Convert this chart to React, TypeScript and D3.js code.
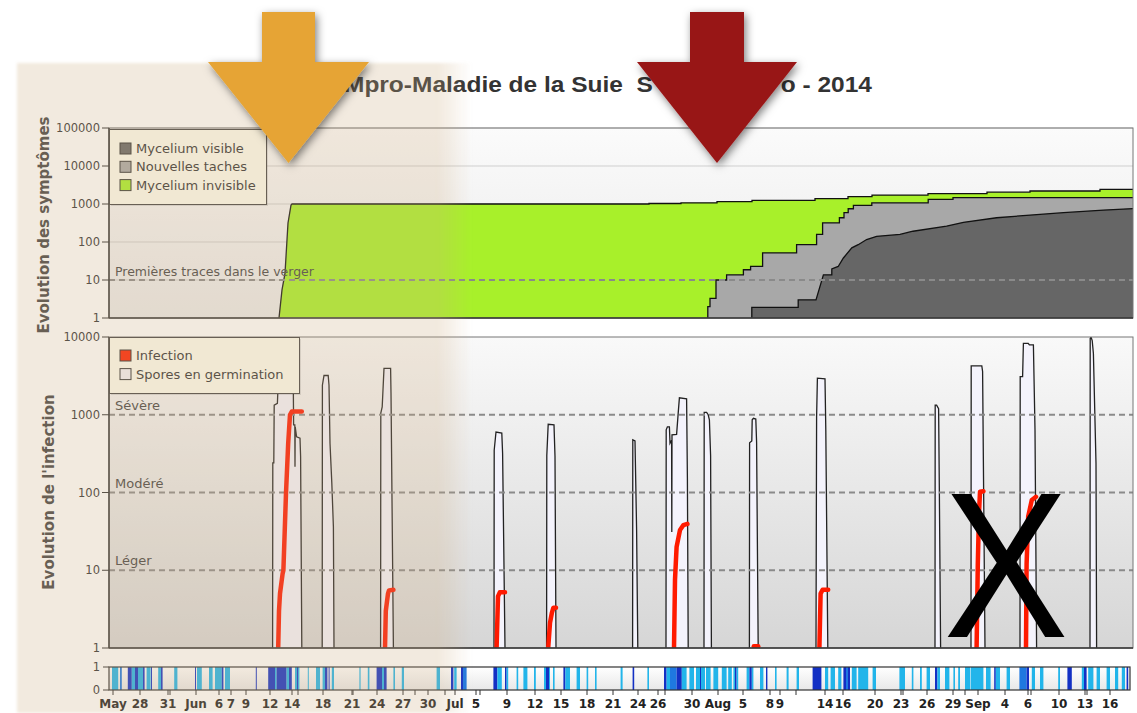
import React from 'react';
import * as d3 from 'd3';

const W = 1137;
const H = 713;
const PLOT_L = 109;
const PLOT_R = 1133;
const SANS = "'DejaVu Sans', Verdana, sans-serif";
const TITLE_FONT = "'Liberation Sans', Arial, sans-serif";

// x axis: ordinal (observation index) axis, 0..256
const X_DOMAIN = [0, 256];
const tickLabels = ['May', '28', '31', 'Jun', '6', '7', '9', '12', '14', '18', '21', '24', '27', '30', 'Jul', '5', '9', '12', '15', '18', '21', '24', '26', '30', 'Aug', '5', '8', '9', '14', '16', '20', '23', '26', '29', 'Sep', '4', '6', '10', '13', '16'];
const tickPositions = [1, 7.75, 14.75, 21.75, 27.5, 30.5, 34.25, 40.25, 45.75, 53.5, 60.75, 67, 73.5, 79.75, 86.5, 91.75, 99.5, 106.5, 113, 119.5, 126, 132.25, 137.25, 145.75, 152.25, 158.5, 165.25, 167.75, 179, 183.5, 191.5, 198, 204.5, 211, 217.25, 224, 229.75, 237.5, 244, 250.25];
const minorTicks = [15.25, 47.25, 61, 76.5, 84, 92.75, 139, 171.75, 198.5, 214, 230.5, 244.5];

const upperTicks = [1, 10, 100, 1000, 10000, 100000];
const lowerTicks = [1, 10, 100, 1000, 10000];
const thresholdValues = [1000, 100, 10];
const thresholdLabels = ['Sévère', 'Modéré', 'Léger'];

// Upper chart series: [index, value]
const myceliumInvisible = [[42.5, 1], [43.25, 5.5], [44, 15], [44.75, 316], [45.5, 940], [45.75, 1000], [135, 1000], [135, 1030], [143, 1030], [143, 1075], [152, 1075], [152, 1150], [160.75, 1150], [160.75, 1250], [176.5, 1250], [176.5, 1380], [184.75, 1380], [184.75, 1560], [190.75, 1560], [190.75, 1720], [204.75, 1720], [204.75, 1870], [219.5, 1870], [219.5, 2050], [230.25, 2050], [230.25, 2200], [247.75, 2200], [247.75, 2430], [256, 2430]];
const nouvellesTaches = [[149.7, 1], [149.7, 2], [150.25, 2], [150.25, 3.3], [151.75, 3.3], [151.75, 10], [154.4, 10], [154.4, 13.7], [158.6, 13.7], [158.6, 18.6], [160.4, 18.6], [160.4, 22.7], [163.4, 22.7], [163.4, 51.5], [171.9, 51.5], [171.9, 85], [176.9, 85], [176.9, 158], [178.4, 158], [178.4, 320], [182.6, 320], [182.6, 435], [183.75, 435], [183.75, 590], [184.8, 590], [184.8, 750], [186.1, 750], [186.1, 920], [190.7, 920], [190.7, 1075], [204.8, 1075], [204.8, 1320], [211, 1320], [211, 1470], [256, 1470]];
const myceliumVisible = [[160.7, 1], [160.7, 1.9], [172.3, 1.9], [172.3, 3], [176.75, 3], [178.6, 13.7], [180.7, 13.7], [180.7, 19.5], [182.3, 22.7], [183.6, 38], [185.7, 70], [187.3, 85], [189.4, 116], [191.9, 141], [197.75, 158], [201, 192], [209.4, 260], [213.6, 330], [221.9, 435], [230.25, 510], [238.6, 590], [248.6, 690], [256, 760]];

// Lower chart: spores en germination pulses
const sporePulses = [
  [[40.9, 1], [40.95, 240], [41.2, 240], [41.3, 1330], [42.1, 1400], [42.2, 1900], [42.4, 3500], [46.05, 3500], [46.15, 740], [46.45, 740], [46.5, 215], [46.55, 700], [46.9, 520], [47.75, 500], [47.9, 290], [48.2, 1]],
  [[53.3, 1], [53.35, 2400], [53.75, 3200], [54.8, 3200], [55, 2400], [55.25, 430], [55.7, 133], [56.1, 36], [56.25, 1]],
  [[67.9, 1], [67.95, 1050], [68.3, 1260], [68.75, 3950], [70.4, 3950], [70.5, 1900], [71.1, 1]],
  [[96.25, 1], [96.3, 350], [96.75, 600], [98.2, 580], [98.4, 320], [99, 1]],
  [[109.4, 1], [109.45, 300], [109.8, 755], [111.25, 740], [111.5, 290], [111.75, 1]],
  [[130.9, 1], [130.95, 475], [131.5, 460], [131.9, 33], [132.2, 1]],
  [[139.25, 1], [139.3, 640], [139.6, 700], [140.1, 700], [140.25, 430], [140.65, 470], [140.7, 31], [140.75, 550], [141.9, 560], [142.3, 1050], [142.6, 1650], [144.4, 1600], [144.6, 150], [144.8, 1]],
  [[148.75, 1], [148.8, 1070], [149.4, 1070], [149.8, 1000], [150.1, 860], [150.4, 300], [150.6, 1]],
  [[160.1, 1], [160.15, 437], [160.7, 460], [160.8, 860], [161.1, 900], [161.7, 880], [161.9, 440], [162.3, 1]],
  [[176.75, 1], [176.9, 940], [177.1, 2950], [179, 2900], [179.2, 640], [179.7, 1]],
  [[206.5, 1], [206.55, 1330], [206.9, 1330], [207.4, 1200], [207.6, 88], [207.9, 1]],
  [[215.5, 1], [215.55, 4250], [218.2, 4250], [218.4, 3600], [219, 1]],
  [[227.75, 1], [227.8, 3100], [228.4, 3100], [228.6, 8300], [229.8, 8300], [230.1, 7900], [231.1, 7900], [231.5, 640], [231.9, 1]],
  [[245.25, 1], [245.3, 9600], [245.5, 10000], [245.8, 9000], [246.1, 6150], [246.75, 237], [246.9, 1]],
];

// Lower chart: infection curves
const infectionCurves = [
  [[42.3, 1], [42.5, 3], [42.75, 5], [43.4, 9], [43.6, 10], [44.25, 98], [44.8, 430], [45.25, 1000], [45.7, 1100], [48.2, 1100]],
  [[69, 1], [69.2, 3], [69.75, 5], [70, 5.5], [71.1, 5.6]],
  [[96.9, 1], [97.25, 4.6], [97.7, 5.2], [99, 5.2]],
  [[109.8, 1], [110.25, 2.1], [110.7, 2.8], [111.1, 3.3], [111.75, 3.3]],
  [[141.25, 1], [141.5, 7.5], [141.9, 20], [142.75, 33], [143.6, 38], [144.6, 39.5]],
  [[161.2, 1.05], [162.3, 1.05]],
  [[177.6, 1], [177.9, 5.0], [178.4, 5.6], [179.8, 5.6]],
  [[216.9, 1], [217.2, 12], [217.5, 54], [217.75, 102], [218.6, 104]],
  [[229.25, 1], [229.4, 12], [229.8, 49], [230.7, 80], [231.75, 88]],
];

// Bottom strip: wetness periods [start, end, level 1=light 2=medium 3=dark]
const wetnessBars = [
  [0.75, 2.3, 1], [2.75, 3.2, 2], [4.7, 5.7, 3], [5.7, 6.5, 1], [6.5, 7.25, 3], [7.25, 8.5, 1], [8.5, 8.9, 3], [9.4, 10.4, 1], [10.5, 10.75, 3],
  [12.3, 13, 1], [13, 13.4, 3], [16.3, 17.1, 1], [21.5, 21.75, 3], [22, 23.2, 1], [25, 25.9, 1], [26.5, 28.2, 1], [28.2, 28.6, 3], [29, 30.25, 1],
  [36.7, 36.9, 3], [39.8, 41.5, 3], [41.5, 41.9, 1], [41.9, 44.4, 3], [44.4, 45, 1], [45, 45.7, 3], [46.5, 47.6, 1], [47, 47.25, 3], [49.7, 49.9, 1],
  [51.75, 52.75, 1], [53.4, 54, 1], [54, 54.6, 3], [54.9, 55.1, 3], [55.7, 56.25, 1], [62.6, 62.9, 1], [64.7, 65.1, 1], [66.9, 68.25, 3], [68.25, 68.75, 1],
  [68.75, 69.4, 3], [71.1, 71.5, 1], [73.2, 73.75, 1], [81.9, 82.75, 1], [85.5, 86.1, 3], [86.3, 86.9, 1], [88, 88.5, 3], [88.5, 89.4, 2],
  [96.1, 97.1, 3], [97.1, 98.2, 1], [99, 99.4, 3], [99.4, 99.8, 1], [101.9, 102.3, 1], [103.6, 104.6, 1], [106.25, 106.7, 1], [108.75, 109.25, 1],
  [109.25, 110, 3], [110, 110.25, 1], [111, 111.4, 1], [113.6, 114.1, 3], [114.1, 115.25, 1], [116.9, 117.75, 1], [119.4, 119.8, 1], [121.5, 121.9, 1],
  [127.9, 128.4, 1], [130.9, 131.3, 3], [134.6, 135, 1], [138.75, 139.4, 3], [139.4, 140.25, 1], [140.25, 141.9, 2], [141.9, 143.2, 3], [143.2, 144.4, 1],
  [145.1, 146.25, 1], [146.75, 147.75, 1], [147.75, 148, 3], [148, 149, 1], [149.25, 150.4, 1], [151.1, 152.3, 1], [153.2, 154.4, 1], [154.8, 155.7, 1],
  [156.1, 156.5, 1], [156.5, 156.9, 3], [156.9, 157.3, 1], [159.4, 160.1, 1], [160.1, 160.7, 3], [160.7, 161.1, 1], [162.75, 163.6, 1], [164.25, 164.6, 3],
  [166.5, 166.9, 1], [169.4, 169.9, 1], [171.9, 172.5, 1], [175.9, 178.1, 3], [179, 179.8, 1], [180.4, 181.5, 1], [182.3, 183.1, 1], [183.6, 184.25, 3],
  [184.25, 184.75, 2], [184.75, 185.25, 3], [185.7, 186.9, 1], [187.3, 189.8, 1], [190.9, 191.75, 1], [197.6, 199, 1], [200.7, 201.1, 1], [202.75, 203.2, 1],
  [204.4, 205.25, 1], [206.5, 207.1, 3], [207.1, 207.75, 1], [209, 210.1, 1], [211.1, 211.5, 1], [212.3, 212.75, 1], [214, 215.25, 1], [215.4, 218.6, 1],
  [219.25, 220.4, 1], [221.3, 221.7, 3], [221.7, 222.75, 1], [224.4, 225.25, 1], [227.6, 229.4, 2], [229.4, 230, 3], [230.7, 231.5, 1], [232.75, 233.6, 1],
  [237.3, 237.75, 1], [239.6, 240.7, 3], [243.2, 243.75, 1], [243.75, 244.4, 3], [244.8, 246.1, 1], [246.9, 247.75, 1], [249.4, 250.25, 1], [251.5, 252.3, 1],
  [253.2, 254, 1], [254.4, 254.8, 3],
];
const wetnessColors = ['', '#22b5ea', '#1f78e0', '#1330c4'];

const upperLegendLabels = ['Mycelium visible', 'Nouvelles taches', 'Mycelium invisible'];
const upperLegendColors = ['#666666', '#a8a8a8', '#a8f02a'];
const lowerLegendLabels = ['Infection', 'Spores en germination'];
const lowerLegendColors = ['#ff2200', '#f2f0f6'];

function arrowPoints(cx: number, shaftHalf: number, headHalf: number, top: number, headTop: number, tip: number) {
  return [
    [cx - shaftHalf, top], [cx + shaftHalf, top], [cx + shaftHalf, headTop], [cx + headHalf, headTop],
    [cx, tip], [cx - headHalf, headTop], [cx - shaftHalf, headTop],
  ].map((p) => p.join(',')).join(' ');
}

export default function App() {
  const x = d3.scaleLinear().domain(X_DOMAIN).range([PLOT_L, PLOT_R]);
  const yU = d3.scaleLog().domain([1, 100000]).range([318, 128]);
  const yL = d3.scaleLog().domain([1, 10000]).range([648, 337]);
  const yS = d3.scaleLinear().domain([0, 1]).range([690, 667]);

  const areaU = d3.area<number[]>().x((d) => x(d[0])).y0(yU(1)).y1((d) => yU(d[1]));
  const lineU = d3.line<number[]>().x((d) => x(d[0])).y((d) => yU(d[1]));
  const areaL = d3.area<number[]>().x((d) => x(d[0])).y0(yL(1)).y1((d) => yL(d[1]));
  const lineL = d3.line<number[]>().x((d) => x(d[0])).y((d) => yL(d[1]));

  const upperSeries = [
    { data: myceliumInvisible, color: upperLegendColors[2] },
    { data: nouvellesTaches, color: upperLegendColors[1] },
    { data: myceliumVisible, color: upperLegendColors[0] },
  ];

  return (
    <svg width={W} height={H} style={{ position: 'absolute', left: 0, top: 0, background: '#fff' }}>
      <defs>
        <linearGradient id="bgU" x1="0" x2="0" y1="0" y2="1">
          <stop offset="0" stopColor="#fbfbfb" />
          <stop offset="1" stopColor="#e9e9e9" />
        </linearGradient>
        <linearGradient id="bgL" x1="0" x2="0" y1="0" y2="1">
          <stop offset="0" stopColor="#f9f9f9" />
          <stop offset="1" stopColor="#d6d6d6" />
        </linearGradient>
        <linearGradient id="bgS" x1="0" x2="0" y1="0" y2="1">
          <stop offset="0" stopColor="#ffffff" />
          <stop offset="1" stopColor="#e8e8e8" />
        </linearGradient>
        <linearGradient id="ov" x1="0" x2="1" y1="0" y2="0">
          <stop offset="0" stopColor="rgb(205,172,128)" stopOpacity="0.26" />
          <stop offset="0.925" stopColor="rgb(205,172,128)" stopOpacity="0.26" />
          <stop offset="1" stopColor="rgb(205,172,128)" stopOpacity="0" />
        </linearGradient>
        <filter id="shadow" x="-30%" y="-30%" width="160%" height="160%">
          <feDropShadow dx="2" dy="3" stdDeviation="4.5" floodColor="#000" floodOpacity="0.5" />
        </filter>
        <filter id="ovblur" x="-5%" y="-5%" width="110%" height="110%">
          <feGaussianBlur stdDeviation="1.5" />
        </filter>
        <clipPath id="clipU"><rect x={PLOT_L} y={128} width={PLOT_R - PLOT_L} height={190} /></clipPath>
        <clipPath id="clipL"><rect x={PLOT_L} y={337} width={PLOT_R - PLOT_L} height={311} /></clipPath>
      </defs>

      {/* Upper plot */}
      <rect x={PLOT_L} y={yU(100000)} width={PLOT_R - PLOT_L} height={yU(1) - yU(100000)} fill="url(#bgU)" />
      {upperTicks.slice(1).map((t) => (
        <line key={'gu' + t} x1={PLOT_L} x2={PLOT_R} y1={yU(t)} y2={yU(t)} stroke="#cfcfcf" strokeWidth={1} />
      ))}
      <g clipPath="url(#clipU)">
        {upperSeries.map((s, i) => (
          <g key={'us' + i}>
            <path d={areaU(s.data) || ''} fill={s.color} />
            <path d={lineU(s.data) || ''} fill="none" stroke="#111" strokeWidth={1.3} />
          </g>
        ))}
      </g>
      <line x1={PLOT_L} x2={PLOT_R} y1={yU(10)} y2={yU(10)} stroke="#8a8a8a" strokeWidth={2} strokeDasharray="6,4" />
      <text x={115} y={yU(10) - 4} fontFamily={SANS} fontSize={12.5} fill="#444">Premières traces dans le verger</text>
      <rect x={PLOT_L} y={yU(100000)} width={PLOT_R - PLOT_L} height={yU(1) - yU(100000)} fill="none" stroke="#777" strokeWidth={1} />
      <line x1={PLOT_L} x2={PLOT_L} y1={yU(100000)} y2={yU(1)} stroke="#333" strokeWidth={1.5} />
      <line x1={PLOT_L} x2={PLOT_R} y1={yU(1)} y2={yU(1)} stroke="#333" strokeWidth={1.5} />
      {upperTicks.map((t) => (
        <g key={'tu' + t}>
          <line x1={PLOT_L - 7} x2={PLOT_L} y1={yU(t)} y2={yU(t)} stroke="#333" />
          <text x={PLOT_L - 9} y={yU(t) + 4} textAnchor="end" fontFamily={SANS} fontSize={11.5} fill="#333">{t}</text>
        </g>
      ))}
      {/* upper legend */}
      <rect x={111} y={131} width={157} height={75} fill="#000" opacity={0.12} />
      <rect x={109.5} y={129.5} width={157} height={75} fill="#fdfcef" stroke="#444" strokeWidth={1} />
      {upperLegendLabels.map((l, i) => (
        <g key={'ul' + i}>
          <rect x={120} y={143 + i * 18.3} width={11} height={11} fill={upperLegendColors[i]} stroke="#333" strokeWidth={1} />
          <text x={136} y={153 + i * 18.3} fontFamily={SANS} fontSize={13} fill="#333">{l}</text>
        </g>
      ))}

      {/* Lower plot */}
      <rect x={PLOT_L} y={yL(10000)} width={PLOT_R - PLOT_L} height={yL(1) - yL(10000)} fill="url(#bgL)" />
      <g clipPath="url(#clipL)">
        {sporePulses.map((p, i) => (
          <g key={'sp' + i}>
            <path d={areaL(p) || ''} fill="#f4f3fc" />
            <path d={lineL(p) || ''} fill="none" stroke="#222" strokeWidth={1.3} />
          </g>
        ))}
      </g>
      {thresholdValues.map((v, i) => (
        <g key={'th' + v}>
          <line x1={PLOT_L} x2={PLOT_R} y1={yL(v)} y2={yL(v)} stroke="#8a8a8a" strokeWidth={2} strokeDasharray="6,4" />
          <text x={115} y={yL(v) - 5} fontFamily={SANS} fontSize={13} fill="#444">{thresholdLabels[i]}</text>
        </g>
      ))}
      <g clipPath="url(#clipL)">
        {infectionCurves.map((c, i) => (
          <path key={'inf' + i} d={lineL(c) || ''} fill="none" stroke="#ff1a00" strokeWidth={4.5} strokeLinejoin="round" strokeLinecap="round" />
        ))}
      </g>
      <rect x={PLOT_L} y={yL(10000)} width={PLOT_R - PLOT_L} height={yL(1) - yL(10000)} fill="none" stroke="#777" strokeWidth={1} />
      <line x1={PLOT_L} x2={PLOT_L} y1={yL(10000)} y2={yL(1)} stroke="#333" strokeWidth={1.5} />
      <line x1={PLOT_L} x2={PLOT_R} y1={yL(1)} y2={yL(1)} stroke="#333" strokeWidth={1.5} />
      {lowerTicks.map((t) => (
        <g key={'tl' + t}>
          <line x1={PLOT_L - 7} x2={PLOT_L} y1={yL(t)} y2={yL(t)} stroke="#333" />
          <text x={PLOT_L - 9} y={yL(t) + 4} textAnchor="end" fontFamily={SANS} fontSize={11.5} fill="#333">{t}</text>
        </g>
      ))}
      {/* lower legend */}
      <rect x={111} y={339} width={190} height={56} fill="#000" opacity={0.12} />
      <rect x={109.5} y={337.5} width={190} height={56} fill="#fdfcef" stroke="#444" strokeWidth={1} />
      {lowerLegendLabels.map((l, i) => (
        <g key={'ll' + i}>
          <rect x={120} y={350 + i * 18.6} width={11} height={11} fill={lowerLegendColors[i]} stroke="#333" strokeWidth={1} />
          <text x={136} y={360 + i * 18.6} fontFamily={SANS} fontSize={13} fill="#333">{l}</text>
        </g>
      ))}

      {/* Bottom strip */}
      <rect x={PLOT_L} y={yS(1)} width={PLOT_R - PLOT_L - 3} height={yS(0) - yS(1)} fill="url(#bgS)" />
      {wetnessBars.map((b, i) => (
        <rect key={'wb' + i} x={x(b[0])} y={yS(1)} width={Math.max(1, x(b[1]) - x(b[0]))} height={yS(0) - yS(1)} fill={wetnessColors[b[2]]} />
      ))}
      <rect x={PLOT_L} y={yS(1)} width={PLOT_R - PLOT_L - 3} height={yS(0) - yS(1)} fill="none" stroke="#333" strokeWidth={1.2} />
      {[0, 1].map((t) => (
        <g key={'ts' + t}>
          <line x1={PLOT_L - 6} x2={PLOT_L} y1={yS(t)} y2={yS(t)} stroke="#333" />
          <text x={PLOT_L - 9} y={yS(t) + 4} textAnchor="end" fontFamily={SANS} fontSize={11.5} fill="#333">{t}</text>
        </g>
      ))}
      {/* x axis */}
      {minorTicks.map((t, i) => (
        <line key={'mt' + i} x1={x(t)} x2={x(t)} y1={690} y2={695} stroke="#333" />
      ))}
      {tickPositions.map((t, i) => (
        <g key={'xt' + i}>
          <line x1={x(t)} x2={x(t)} y1={690} y2={695} stroke="#333" />
          <text x={x(t)} y={707.5} textAnchor="middle" fontFamily={SANS} fontWeight="bold" fontSize={12} fill="#222">{tickLabels[i]}</text>
        </g>
      ))}

      {/* Axis titles */}
      <text transform={`translate(49,225) rotate(-90)`} textAnchor="middle" fontFamily={SANS} fontWeight="bold" fontSize={15} fill="#444">Evolution des symptômes</text>
      <text transform={`translate(54,492) rotate(-90)`} textAnchor="middle" fontFamily={SANS} fontWeight="bold" fontSize={15} fill="#444">Evolution de l'infection</text>

      {/* Title */}
      <g transform="translate(0,92) scale(1,0.9)">
        <text x={319.5} y={0} fontFamily={TITLE_FONT} fontWeight="bold" fontSize={24.5} fill="#333">{'RIMpro-Maladie de la Suie\u00a0\u00a0S'}</text>
        <text x={872} y={0} textAnchor="end" fontFamily={TITLE_FONT} fontWeight="bold" fontSize={24.5} fill="#333">o - 2014</text>
      </g>

      {/* beige overlay */}
      <rect x={17} y={63} width={455} height={650} fill="url(#ov)" filter="url(#ovblur)" />

      {/* arrows */}
      <polygon points={arrowPoints(288.5, 26.5, 80.5, 12, 62, 163)} fill="#e6a434" filter="url(#shadow)" />
      <polygon points={arrowPoints(717, 27, 80, 12, 62, 163)} fill="#981819" filter="url(#shadow)" />

      {/* X mark */}
      <text transform="translate(1006,637) scale(0.9,1)" textAnchor="middle" fontFamily={TITLE_FONT} fontSize={208} fill="#000">X</text>
    </svg>
  );
}
